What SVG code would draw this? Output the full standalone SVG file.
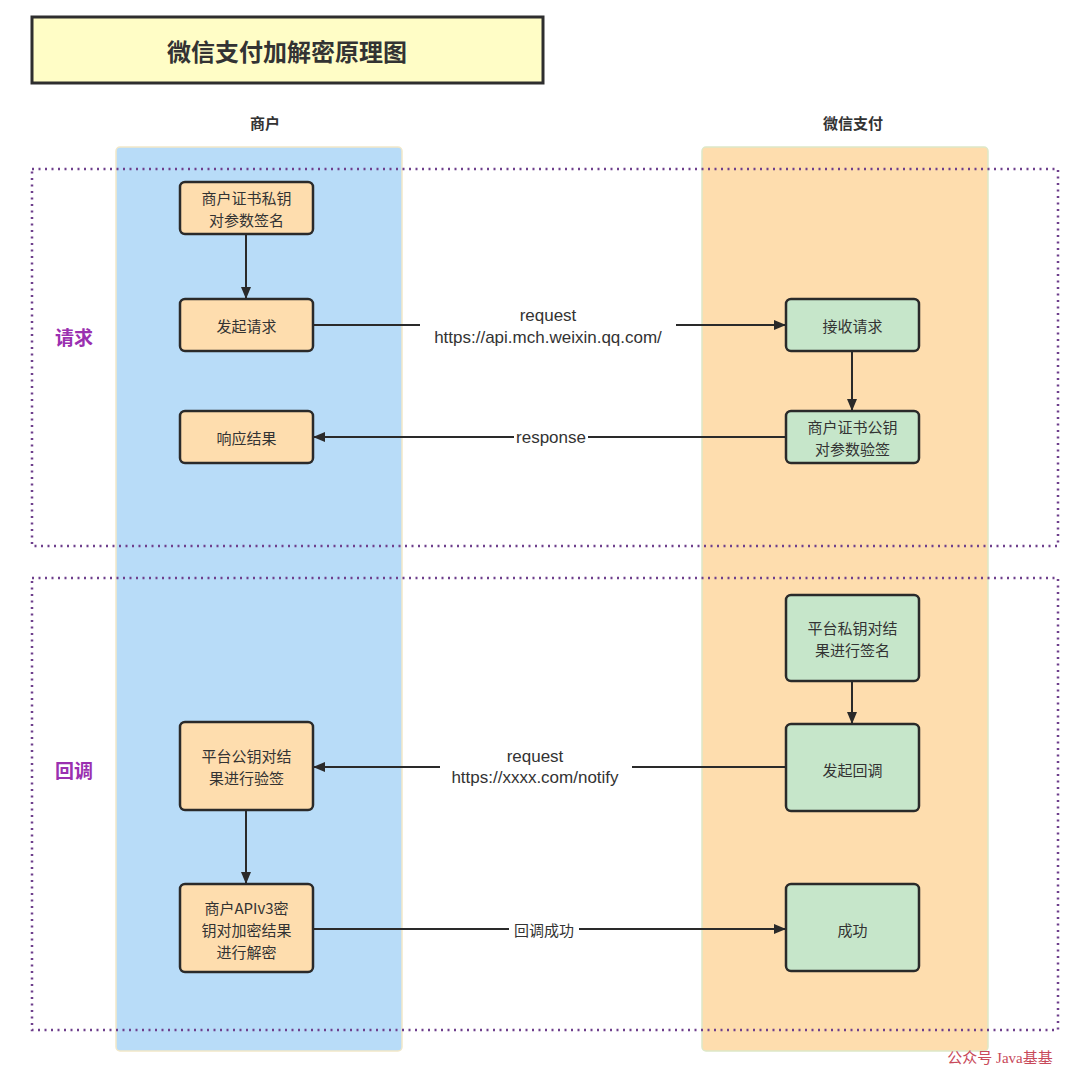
<svg xmlns="http://www.w3.org/2000/svg" width="1080" height="1074" viewBox="0 0 1080 1074">
<defs>
<style>
text{font-family:"Noto Sans CJK SC","Liberation Sans",sans-serif;fill:#333}
.t{font-size:15px;text-anchor:middle;dominant-baseline:central}
.lbl{font-family:"Liberation Sans","Noto Sans CJK SC",sans-serif;font-size:17px;text-anchor:middle;dominant-baseline:central}
.hd{font-size:15px;font-weight:bold;text-anchor:middle;dominant-baseline:central}
.sec{font-size:19px;font-weight:bold;fill:#9A30B0;text-anchor:middle;dominant-baseline:central}
.mn{fill:#FEDDAE;stroke:#2a2a2a;stroke-width:2.5}
.wx{fill:#C6E6CA;stroke:#2a2a2a;stroke-width:2.5}
.edge{fill:none;stroke:#2a2a2a;stroke-width:2}
.dot{fill:none;stroke:#6E3F8C;stroke-width:2.5;stroke-dasharray:2 4.5}
.bg{fill:#fff}
</style>
<marker id="ah" viewBox="0 0 12 10" refX="11" refY="5" markerWidth="12" markerHeight="10" markerUnits="userSpaceOnUse" orient="auto">
<path d="M0,0 L12,5 L0,10 Z" fill="#2a2a2a"/>
</marker>
</defs>
<rect width="1080" height="1074" fill="#fff"/>

<g id="title">
<rect x="32" y="17" width="511" height="66" fill="#FFFDC6" stroke="#2e2e2e" stroke-width="3"/>
<text x="287" y="50" font-size="24" font-weight="bold" text-anchor="middle" dominant-baseline="central" style="fill:#333">微信支付加解密原理图</text>
</g>

<g id="lane-merchant">
<rect x="116" y="147" width="286" height="904" rx="4" fill="#B8DCF8" stroke="#F2E8C8" stroke-width="1.5"/>
<text class="hd" x="265" y="122">商户</text>
</g>
<g id="lane-wechat">
<rect x="702" y="147" width="286" height="904" rx="4" fill="#FEDDAE" stroke="#DDE8C8" stroke-width="1.5"/>
<text class="hd" x="853" y="122">微信支付</text>
</g>

<g id="section-request">
<rect class="dot" x="32" y="169" width="1026" height="377"/>
<text class="sec" x="74" y="336">请求</text>
</g>
<g id="section-callback">
<rect class="dot" x="32" y="578" width="1026" height="452"/>
<text class="sec" x="74" y="769">回调</text>
</g>

<g id="connectors">
<path class="edge" d="M246,234 L246,298" marker-end="url(#ah)"/>
<path class="edge" d="M313,325 L785,325" marker-end="url(#ah)"/>
<path class="edge" d="M852,351 L852,410" marker-end="url(#ah)"/>
<path class="edge" d="M786,437 L314,437" marker-end="url(#ah)"/>
<path class="edge" d="M852,681 L852,723" marker-end="url(#ah)"/>
<path class="edge" d="M786,767 L314,767" marker-end="url(#ah)"/>
<path class="edge" d="M246,810 L246,883" marker-end="url(#ah)"/>
<path class="edge" d="M313,929 L785,929" marker-end="url(#ah)"/>
<rect class="bg" x="420" y="305" width="256" height="44"/>
<text class="lbl" x="548" y="315">request</text>
<text class="lbl" x="548" y="337">https://api.mch.weixin.qq.com/</text>
<rect class="bg" x="514" y="428" width="74" height="18"/>
<text class="lbl" x="551" y="437">response</text>
<rect class="bg" x="440" y="746" width="192" height="44"/>
<text class="lbl" x="535" y="756">request</text>
<text class="lbl" x="535" y="777">https://xxxx.com/notify</text>
<rect class="bg" x="509" y="920" width="70" height="18"/>
<text class="t" x="544" y="929">回调成功</text>
</g>

<g id="m-sign">
<rect class="mn" x="180" y="182" width="133" height="52" rx="5"/>
<text class="t" x="246.5" y="197">商户证书私钥</text>
<text class="t" x="246.5" y="219">对参数签名</text>
</g>
<g id="m-request">
<rect class="mn" x="180" y="299" width="133" height="52" rx="5"/>
<text class="t" x="246.5" y="325">发起请求</text>
</g>
<g id="m-response">
<rect class="mn" x="180" y="411" width="133" height="52" rx="5"/>
<text class="t" x="246.5" y="437">响应结果</text>
</g>
<g id="m-verify">
<rect class="mn" x="180" y="722" width="133" height="88" rx="5"/>
<text class="t" x="246.5" y="755">平台公钥对结</text>
<text class="t" x="246.5" y="777">果进行验签</text>
</g>
<g id="m-decrypt">
<rect class="mn" x="180" y="884" width="133" height="88" rx="5"/>
<text class="t" x="246.5" y="907">商户APIv3密</text>
<text class="t" x="246.5" y="929">钥对加密结果</text>
<text class="t" x="246.5" y="951">进行解密</text>
</g>

<g id="w-receive">
<rect class="wx" x="786" y="299" width="133" height="52" rx="5"/>
<text class="t" x="852.5" y="325">接收请求</text>
</g>
<g id="w-verify">
<rect class="wx" x="786" y="411" width="133" height="52" rx="5"/>
<text class="t" x="852.5" y="426">商户证书公钥</text>
<text class="t" x="852.5" y="448">对参数验签</text>
</g>
<g id="w-sign">
<rect class="wx" x="786" y="595" width="133" height="86" rx="5"/>
<text class="t" x="852.5" y="627">平台私钥对结</text>
<text class="t" x="852.5" y="649">果进行签名</text>
</g>
<g id="w-callback">
<rect class="wx" x="786" y="724" width="133" height="87" rx="5"/>
<text class="t" x="852.5" y="769">发起回调</text>
</g>
<g id="w-success">
<rect class="wx" x="786" y="884" width="133" height="87" rx="5"/>
<text class="t" x="852.5" y="929">成功</text>
</g>

<text x="1000" y="1058" font-size="15" text-anchor="middle" dominant-baseline="central" style="fill:#C84A5A;font-family:'Liberation Serif','Noto Sans CJK SC',serif">公众号  Java基基</text>
</svg>
